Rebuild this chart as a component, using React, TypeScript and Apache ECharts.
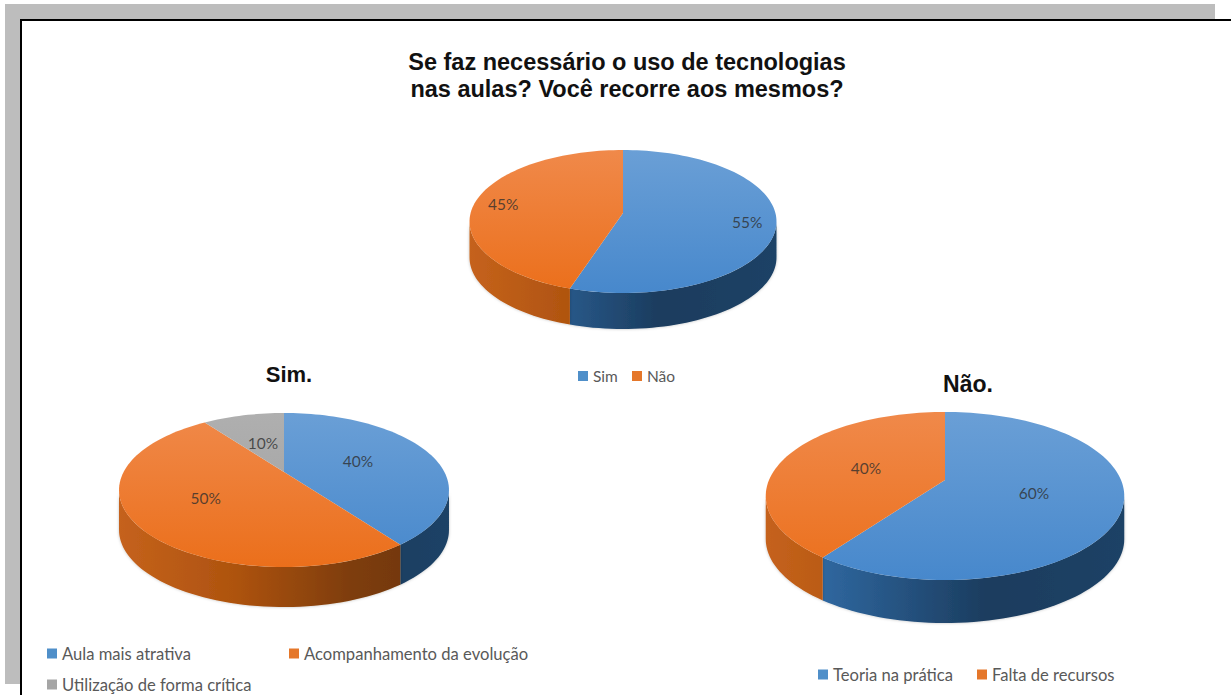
import React, { useEffect, useRef } from "react";
import * as echarts from "echarts";

// Survey answers, in percent
const overviewLabels = ["Sim", "Não"];
const overviewValues = [55, 45];
const simLabels = ["Aula mais atrativa", "Acompanhamento da evolução", "Utilização de forma crítica"];
const simValues = [40, 50, 10];
const naoLabels = ["Teoria na prática", "Falta de recursos"];
const naoValues = [60, 40];

const mainTitle = "Se faz necessário o uso de tecnologias\nnas aulas? Você recorre aos mesmos?";
const simTitle = "Sim.";
const naoTitle = "Não.";

const FONT_LABEL = "Lato, 'Open Sans', sans-serif";
const FONT_TITLE = "'Liberation Sans', Arial, sans-serif";

type Tone = { top: [string, string]; wall: [number, string][]; swatch: string };

const BLUE: Tone = {
  top: ["#6A9FD6", "#4788CC"],
  wall: [[0, "#33709F"], [0.16, "#2F679F"], [0.62, "#1B3C5E"], [1, "#1C4266"]],
  swatch: "#4F8FC9",
};
const ORANGE: Tone = {
  top: ["#F0894A", "#EB6F1B"],
  wall: [[0, "#C5621C"], [0.35, "#AE530F"], [0.7, "#7E3D09"], [1, "#6C3408"]],
  swatch: "#E5772A",
};
const GREY: Tone = {
  top: ["#AFAFAF", "#A0A0A0"],
  wall: [[0, "#777777"], [1, "#555555"]],
  swatch: "#A5A5A5",
};

// Tilted disc: a circle seen through a homography, so slices meet at a point
// above the ellipse centre, as a perspective pie does.
type Disc = {
  cx: number; cy: number; r: number; q: number; p: number;
  depth: number; labelAt: number; labelColor: string;
};

const LABEL_INK = "rgba(45,45,45,0.78)";
const overviewDisc: Disc = { cx: 623, cy: 213, r: 152.4, q: 70.5, p: 0.119, depth: 36, labelAt: 0.81, labelColor: LABEL_INK };
const simDisc: Disc = { cx: 284, cy: 472, r: 160.4, q: 72.8, p: 0.234, depth: 40, labelAt: 0.52, labelColor: LABEL_INK };
const naoDisc: Disc = { cx: 945, cy: 480, r: 176, q: 81, p: 0.19, depth: 43, labelAt: 0.5, labelColor: LABEL_INK };

function rim(d: Disc, deg: number, scale = 1): [number, number] {
  const t = (deg * Math.PI) / 180;
  const w = 1 + d.p * Math.cos(t);
  return [d.cx + (scale * d.r * Math.sin(t)) / w, d.cy - (scale * d.q * Math.cos(t)) / w];
}

function arcPoints(d: Disc, from: number, to: number): [number, number][] {
  const pts: [number, number][] = [];
  const steps = Math.max(2, Math.ceil((to - from) / 2));
  for (let i = 0; i <= steps; i++) pts.push(rim(d, from + ((to - from) * i) / steps));
  return pts;
}

function sliceSeries(name: string, values: number[], index: number, d: Disc, tone: Tone) {
  const total = values.reduce((a, b) => a + b, 0);
  const before = values.slice(0, index).reduce((a, b) => a + b, 0);
  const halfWidth = d.r / Math.sqrt(1 - d.p * d.p);
  const bandTop = rim(d, 0)[1];
  const bandBottom = rim(d, 180)[1];
  return {
    type: "custom",
    name,
    coordinateSystem: "none",
    silent: true,
    itemStyle: { color: tone.swatch },
    data: [[values[index]]],
    renderItem: (_: unknown, api: any) => {
      const value = api.value(0);
      const start = (before / total) * 360;
      const end = start + (value / total) * 360;
      const mid = (start + end) / 2;
      const children: any[] = [];

      // Only the rim facing the viewer shows a wall
      const edge = (Math.acos(-d.p) * 180) / Math.PI;
      const wallFrom = Math.max(start, edge);
      const wallTo = Math.min(end, 360 - edge);
      if (wallTo > wallFrom) {
        const upper = arcPoints(d, wallFrom, wallTo);
        const lower = upper.map(([x, y]) => [x, y + d.depth]).reverse();
        children.push({
          type: "polygon",
          shape: { points: [...upper, ...lower] },
          style: {
            fill: new echarts.graphic.LinearGradient(
              d.cx - halfWidth, 0, d.cx + halfWidth, 0,
              tone.wall.map(([offset, color]) => ({ offset, color })),
              true,
            ),
            shadowBlur: 3,
            shadowColor: "rgba(0,0,0,0.25)",
          },
        });
      }

      children.push({
        type: "polygon",
        shape: { points: [[d.cx, d.cy], ...arcPoints(d, start, end)] },
        style: {
          fill: new echarts.graphic.LinearGradient(
            0, bandTop, 0, bandBottom,
            [{ offset: 0, color: tone.top[0] }, { offset: 1, color: tone.top[1] }],
            true,
          ),
        },
      });

      const [lx, ly] = rim(d, mid, d.labelAt);
      children.push({
        type: "text",
        style: {
          text: `${value}%`,
          x: lx,
          y: ly,
          textAlign: "center",
          textVerticalAlign: "middle",
          fill: d.labelColor,
          fontSize: 15.5,
          fontFamily: FONT_LABEL,
        },
      });
      return { type: "group", children };
    },
  };
}

function legendItem(name: string, left: number, top: number, fontSize = 16.6) {
  return {
    data: [name],
    left,
    top,
    padding: 0,
    icon: "rect",
    itemWidth: 10,
    itemHeight: 10,
    selectedMode: false,
    textStyle: { color: "#595959", fontSize, fontFamily: FONT_LABEL },
  };
}

function buildOption() {
  const tones = [BLUE, ORANGE, GREY];
  const groups: [string[], number[], Disc][] = [
    [overviewLabels, overviewValues, overviewDisc],
    [simLabels, simValues, simDisc],
    [naoLabels, naoValues, naoDisc],
  ];
  const series = groups.flatMap(([labels, values, disc]) =>
    labels.map((name, i) => sliceSeries(name, values, i, disc, tones[i])),
  );
  return {
    animation: false,
    backgroundColor: "#ffffff",
    title: [
      {
        text: mainTitle,
        left: 622,
        top: 43,
        textAlign: "center",
        textStyle: { fontFamily: FONT_TITLE, fontSize: 23.5, fontWeight: "bold", color: "#111111", lineHeight: 27 },
      },
      {
        text: simTitle,
        left: 284,
        top: 358,
        textAlign: "center",
        textStyle: { fontFamily: FONT_TITLE, fontSize: 22, fontWeight: "bold", color: "#111111" },
      },
      {
        text: naoTitle,
        left: 963,
        top: 367,
        textAlign: "center",
        textStyle: { fontFamily: FONT_TITLE, fontSize: 23, fontWeight: "bold", color: "#111111" },
      },
    ],
    legend: [
      legendItem(overviewLabels[0], 578, 368, 15.5),
      legendItem(overviewLabels[1], 632, 368, 15.5),
      legendItem(simLabels[0], 47, 645),
      legendItem(simLabels[1], 289, 645),
      legendItem(simLabels[2], 47, 676),
      legendItem(naoLabels[0], 818, 666),
      legendItem(naoLabels[1], 977, 666),
    ],
    // Page frame: grey band with a black rule along its inner edge
    graphic: [
      { type: "rect", shape: { x: 5, y: 4, width: 1210, height: 15 }, style: { fill: "#BDBDBD" } },
      { type: "rect", shape: { x: 5, y: 4, width: 15, height: 680 }, style: { fill: "#BDBDBD" } },
      { type: "rect", shape: { x: 20, y: 19, width: 1211, height: 2 }, style: { fill: "#000000" } },
      { type: "rect", shape: { x: 20, y: 19, width: 2, height: 676 }, style: { fill: "#000000" } },
    ],
    series,
  };
}

export default function App() {
  const ref = useRef<HTMLDivElement>(null);
  useEffect(() => {
    const chart = echarts.init(ref.current!, undefined, { renderer: "svg" });
    chart.setOption(buildOption() as any);
    return () => chart.dispose();
  }, []);
  return <div ref={ref} style={{ position: "fixed", left: 0, top: 0, width: 1231, height: 695 }} />;
}
